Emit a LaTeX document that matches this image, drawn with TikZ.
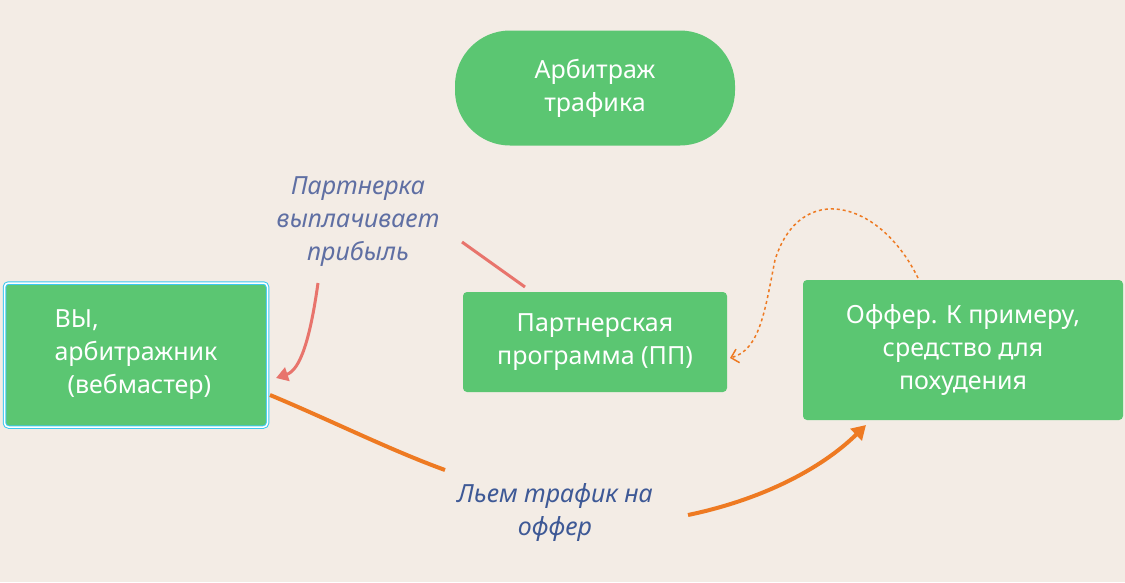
\documentclass[tikz,border=0pt]{standalone}
\usepackage{fontspec}
\setmainfont{Noto Sans}
\usetikzlibrary{arrows.meta}
\definecolor{bg}{HTML}{F3ECE5}
\definecolor{boxgreen}{HTML}{5BC672}
\definecolor{redline}{HTML}{E8746C}
\definecolor{orangeline}{HTML}{EE7A22}
\definecolor{labelblue}{HTML}{5F6FA3}
\definecolor{darkblue}{HTML}{3E5996}
\definecolor{selblue}{HTML}{3CC8F0}
\begin{document}
\begin{tikzpicture}[x=1pt,y=-1pt,
  box/.style={fill=boxgreen, text=white, rounded corners=4pt, font=\fontsize{25}{33}\selectfont, align=center, inner sep=0pt},
  note/.style={font=\fontsize{25}{33}\selectfont\itshape, align=center, inner sep=0pt}]
\fill[bg] (0,0) rectangle (1125,582);
\node[box, rounded corners=55pt, minimum width=280pt, minimum height=115pt] (title) at (595,88) {Арбитраж\\трафика};
\node[box, minimum width=263pt, minimum height=144pt, align=left, draw=selblue, line width=1pt, double=white, double distance=1.5pt] (you) at (136,355) {ВЫ,\\арбитражник\\\ \ (вебмастер)};
\node[box, minimum width=264pt, minimum height=100pt] (pp) at (595,342) {Партнерская\\программа (ПП)};
\node[box, minimum width=320pt, minimum height=140pt] (offer) at (963,350) {Оффер. К примеру,\\средство для\\похудения};
\node[note, text=labelblue] (pay) at (358,222) {Партнерка\\выплачивает\\прибыль};
\node[note, text=darkblue] (pour) at (555,512) {Льем трафик на\\оффер};
% payout
\draw[redline, line width=3pt] (525,287) -- (462,242);
\draw[redline, line width=3pt, -{Triangle[length=12pt,width=14pt]}] (318,283) .. controls (310,340) and (300,370) .. (276,378);
% traffic
\draw[orangeline, line width=4pt] (270,395) .. controls (330,420) and (390,450) .. (445,470);
\draw[orangeline, line width=4pt, -{Triangle[length=14pt,width=16pt]}] (688,515) .. controls (760,500) and (820,470) .. (866,425);
% offer to program
\draw[orangeline, line width=1.5pt, dashed, -{Straight Barb[length=7pt]}] (918,278) .. controls (880,200) and (800,180) .. (775,260) .. controls (765,310) and (760,350) .. (730,358);
\end{tikzpicture}
\end{document}
